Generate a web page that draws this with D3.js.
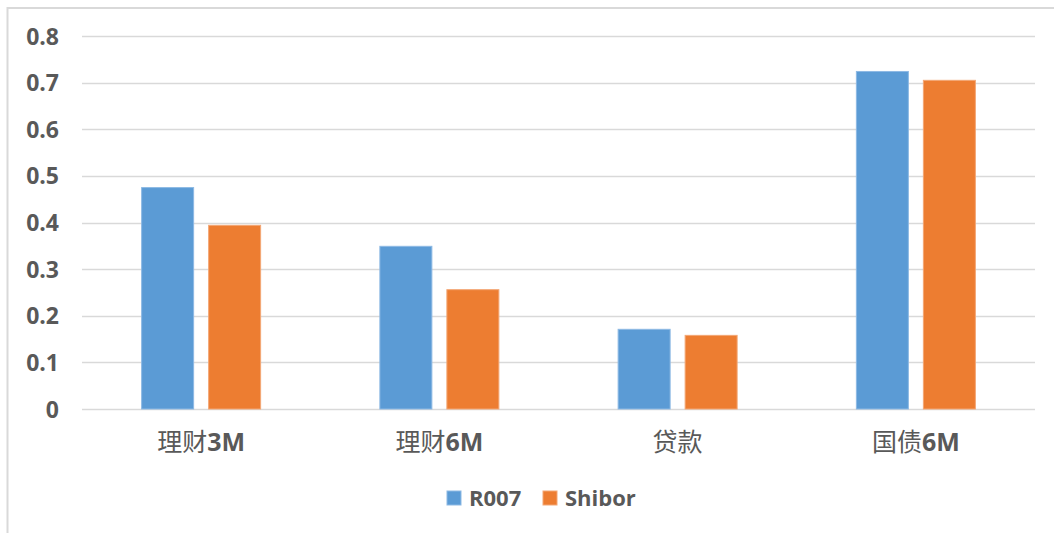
<!DOCTYPE html>
<html>
<head>
<meta charset="utf-8">
<script src="https://cdn.jsdelivr.net/npm/d3@7"></script>
<style>
  html, body { margin: 0; padding: 0; background: #fff; }
  svg { display: block; }
</style>
</head>
<body>
<svg id="chart" width="1054" height="533"></svg>
<script>
// Data
const categories = ["理财3M", "理财6M", "贷款", "国债6M"];
const seriesNames = ["R007", "Shibor"];
const r007 = [0.476, 0.350, 0.172, 0.725];
const shibor = [0.395, 0.257, 0.159, 0.706];
const yTicks = [0, 0.1, 0.2, 0.3, 0.4, 0.5, 0.6, 0.7, 0.8];
const colors = ["#5B9BD5", "#ED7D31"];
const strokes = ["#8DB9E4", "#F3A775"];

const svg = d3.select("#chart");
const W = 1054, H = 533;
const plot = { left: 82, right: 1035, top: 36, bottom: 409 };
const latinFont = "'Open Sans', 'DejaVu Sans', sans-serif";

// Chart area frame (top & left edges visible)
svg.append("rect").attr("x", 7.5).attr("y", 8).attr("width", W).attr("height", H)
  .attr("fill", "#fff").attr("stroke", "#D9D9D9").attr("stroke-width", 2);

const x0 = d3.scaleBand().domain(categories).range([plot.left, plot.right]).paddingInner(0).paddingOuter(0);
const y = d3.scaleLinear().domain([0, 0.8]).range([plot.bottom, plot.top]);

// Gridlines
svg.append("g").selectAll("line").data(yTicks).join("line")
  .attr("x1", plot.left).attr("x2", plot.right)
  .attr("y1", d => Math.round(y(d)) + 0.5).attr("y2", d => Math.round(y(d)) + 0.5)
  .attr("stroke", "#D9D9D9").attr("stroke-width", 1.3);

// Y axis labels
const yAxis = d3.axisLeft(y).tickValues(yTicks).tickFormat(d => d === 0 ? "0" : d3.format(".1f")(d)).tickSize(0).tickPadding(0);
const yg = svg.append("g").attr("transform", `translate(59,0)`).call(yAxis);
yg.select(".domain").remove();
yg.selectAll("text")
  .attr("fill", "#595959").attr("font-family", latinFont)
  .attr("font-weight", "bold").attr("font-size", 23).attr("dy", "0.35em");

// Bars
const barW = 53, gap = 14;
const x1 = d3.scaleOrdinal().domain(seriesNames).range([-(gap / 2 + barW), gap / 2]);
const rows = categories.map((c, i) => ({ cat: c, vals: [r007[i], shibor[i]] }));
const groups = svg.append("g").selectAll("g").data(rows).join("g")
  .attr("transform", d => `translate(${x0(d.cat) + x0.bandwidth() / 2},0)`);
groups.selectAll("rect").data(d => d.vals.map((v, j) => ({ v, j })))
  .join("rect")
  .attr("x", d => x1(seriesNames[d.j]) + 0.5)
  .attr("y", d => y(d.v) + 0.5)
  .attr("width", barW - 1)
  .attr("height", d => y(0) - y(d.v) - 0.5)
  .attr("fill", d => colors[d.j])
  .attr("stroke", d => strokes[d.j])
  .attr("stroke-width", 1);

// Category labels
const xLab = svg.append("g").selectAll("text").data(categories).join("text")
  .attr("x", d => x0(d) + x0.bandwidth() / 2)
  .attr("y", 451)
  .attr("text-anchor", "middle")
  .attr("fill", "#595959")
  .attr("font-size", 25);
xLab.each(function (d) {
  const t = d3.select(this);
  const m = d.match(/^([^\x00-\x7F]+)(.*)$/);
  t.append("tspan").attr("font-family", "'Noto Sans CJK SC', sans-serif").attr("font-weight", "normal").text(m ? m[1] : d);
  if (m && m[2]) t.append("tspan").attr("font-family", latinFont).attr("font-weight", "bold").text(m[2]);
});

// Legend
const legendItems = [{ name: seriesNames[0], x: 447 }, { name: seriesNames[1], x: 543 }];
const lg = svg.append("g").selectAll("g").data(legendItems).join("g")
  .attr("transform", d => `translate(${d.x},491)`);
lg.append("rect").attr("width", 14).attr("height", 14)
  .attr("fill", (d, i) => colors[i]).attr("stroke", (d, i) => strokes[i]);
lg.append("text").attr("x", 22).attr("y", 7).attr("dy", "0.36em")
  .attr("fill", "#595959").attr("font-family", latinFont)
  .attr("font-weight", "bold").attr("font-size", 22).text(d => d.name);
</script>
</body>
</html>
